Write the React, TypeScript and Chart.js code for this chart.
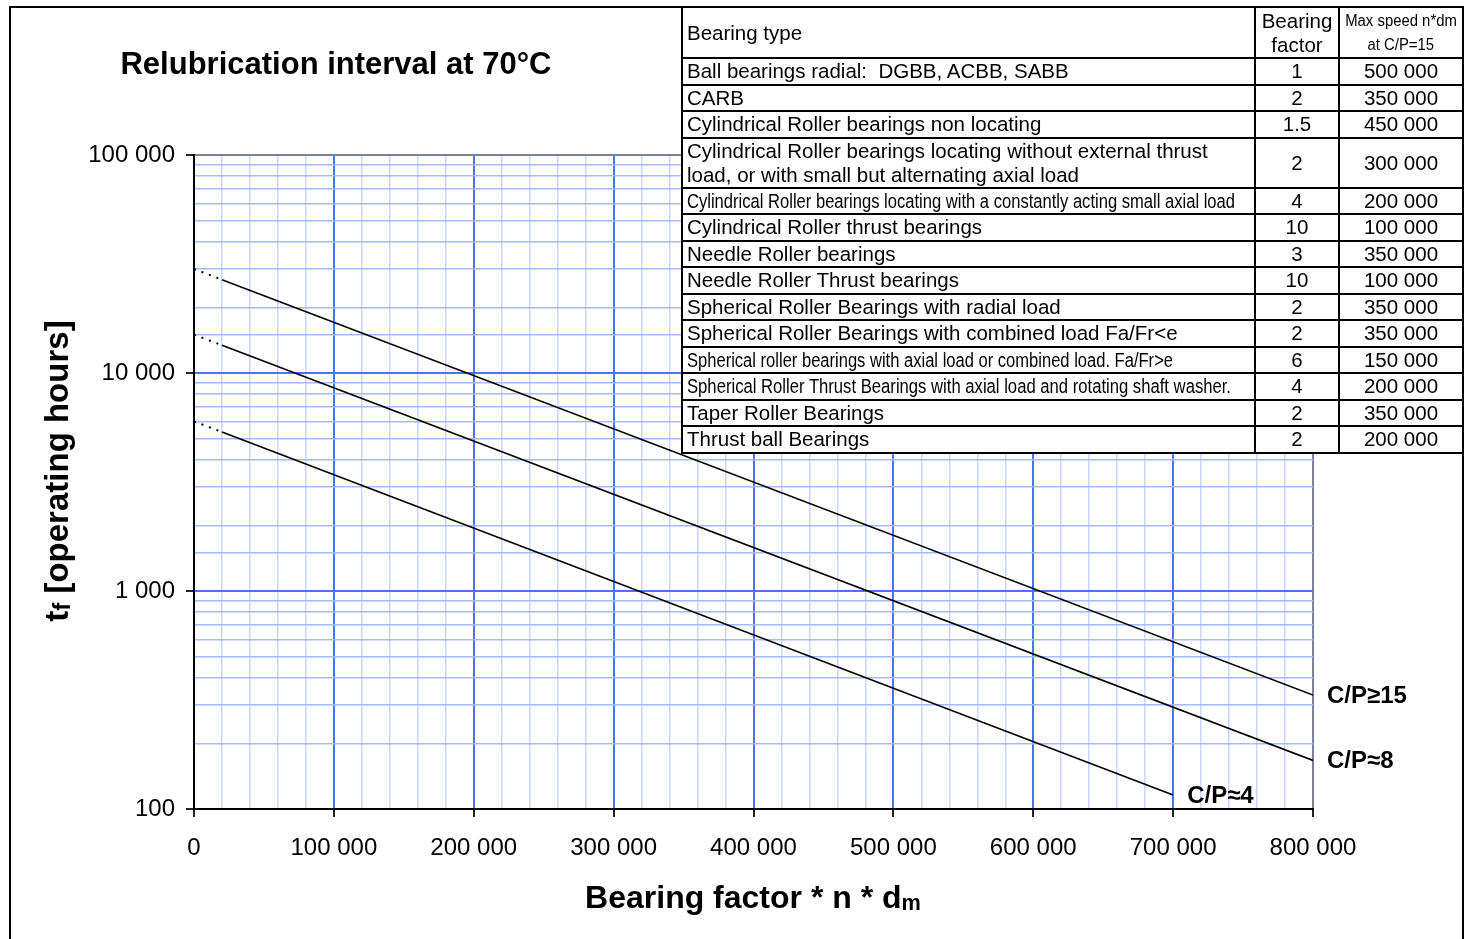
import React, { useEffect, useLayoutEffect, useRef } from 'react';
import { Chart, registerables } from 'chart.js';

Chart.register(...registerables);

// ---------- data ----------
const xMin = 0;
const xMax = 800000;
const xStep = 20000;
const yMin = 100;
const yMax = 100000;

const curveNames = ['C/P≥15', 'C/P≈8', 'C/P≈4'];

// dotted extrapolation near the y-axis
const dashedX = [0, 20000];
const cp15DashedY = [30000, 26800];
const cp8DashedY = [15000, 13400];
const cp4DashedY = [6000, 5360];

// solid curves
const cp15X = [20000, 800000];
const cp15Y = [26800, 333];
const cp8X = [20000, 800000];
const cp8Y = [13400, 167];
const cp4X = [20000, 700000];
const cp4Y = [5360, 116];

const tableHeader = ['Bearing type', 'Bearing\nfactor', 'Max speed n*dm', 'at C/P=15'];
const bearingTypes = [
  'Ball bearings radial:  DGBB, ACBB, SABB',
  'CARB',
  'Cylindrical Roller bearings non locating',
  'Cylindrical Roller bearings locating without external thrust\nload, or with small but alternating axial load',
  'Cylindrical Roller bearings locating with a constantly acting small axial load',
  'Cylindrical Roller thrust bearings',
  'Needle Roller bearings',
  'Needle Roller Thrust bearings',
  'Spherical Roller Bearings with radial load',
  'Spherical Roller Bearings with combined load Fa/Fr<e',
  'Spherical roller bearings with axial load or combined load. Fa/Fr>e',
  'Spherical Roller Thrust Bearings with axial load and rotating shaft washer.',
  'Taper Roller Bearings',
  'Thrust ball Bearings',
];
const bearingFactors = ['1', '2', '1.5', '2', '4', '10', '3', '10', '2', '2', '6', '4', '2', '2'];
const maxSpeeds = [
  '500 000', '350 000', '450 000', '300 000', '200 000', '100 000', '350 000',
  '100 000', '350 000', '350 000', '150 000', '200 000', '350 000', '200 000',
];

// ---------- styling ----------
const FONT = '"Liberation Sans", Arial, sans-serif';
// rows drawn in a condensed face in the original: squeezed to these widths (px)
const narrowRowWidths: Record<number, number> = { 4: 548, 10: 486, 11: 544 };
const MAJOR = '#4a74ff';
const MINOR_V = '#c9d6ff';
const MINOR_H = '#a6baff';
const EDGE = '#7d8099';

const fmt = (v: number) => String(Math.round(v)).replace(/\B(?=(\d{3})+(?!\d))/g, ' ');
const isPow10 = (v: number) => Math.abs(Math.log10(v) - Math.round(Math.log10(v))) < 1e-9;

const toPts = (xs: number[], ys: number[]) => xs.map((x, i) => ({ x, y: ys[i] }));

const curveLabelPlugin = {
  id: 'curveLabels',
  afterDatasetsDraw(chart: any) {
    const ctx = chart.ctx;
    ctx.save();
    ctx.font = `bold 24px ${FONT}`;
    ctx.fillStyle = '#000';
    ctx.textBaseline = 'middle';
    ctx.textAlign = 'left';
    chart.data.datasets.forEach((ds: any, i: number) => {
      if (!ds.curveLabel) return;
      const meta = chart.getDatasetMeta(i);
      const pt = meta.data[meta.data.length - 1];
      ctx.fillText(ds.curveLabel, pt.x + 14, pt.y + 1);
    });
    ctx.restore();
  },
};

function ChartCanvas() {
  const ref = useRef<HTMLCanvasElement | null>(null);
  useEffect(() => {
    if (!ref.current) return;
    const solid = { borderColor: '#000', borderWidth: 1.6, pointRadius: 0, fill: false };
    const dashed = { borderColor: '#000', borderWidth: 2, pointRadius: 0, fill: false, borderDash: [2, 6] };
    const chart = new Chart(ref.current, {
      type: 'line',
      data: {
        datasets: [
          { ...dashed, data: toPts(dashedX, cp15DashedY) },
          { ...dashed, data: toPts(dashedX, cp8DashedY) },
          { ...dashed, data: toPts(dashedX, cp4DashedY) },
          { ...solid, data: toPts(cp15X, cp15Y), curveLabel: curveNames[0] } as any,
          { ...solid, data: toPts(cp8X, cp8Y), curveLabel: curveNames[1] } as any,
          { ...solid, data: toPts(cp4X, cp4Y), curveLabel: curveNames[2] } as any,
        ],
      },
      options: {
        responsive: false,
        animation: false,
        devicePixelRatio: 1,
        layout: { padding: { left: 0, right: 151, top: 155, bottom: 0 } },
        plugins: { legend: { display: false }, tooltip: { enabled: false }, title: { display: false } },
        scales: {
          x: {
            type: 'linear',
            min: xMin,
            max: xMax,
            afterFit: (s: any) => { s.height = 130; },
            ticks: {
              stepSize: xStep,
              autoSkip: false,
              maxRotation: 0,
              padding: 17,
              color: '#000',
              font: { family: FONT, size: 24 },
              callback: (v: any) => (Number(v) % 100000 === 0 ? fmt(Number(v)) : ''),
            },
            grid: {
              color: (c: any) => {
                const v = c.tick ? c.tick.value : 0;
                if (v === xMax) return EDGE;
                return v % 100000 === 0 ? MAJOR : MINOR_V;
              },
              lineWidth: (c: any) => {
                const v = c.tick ? c.tick.value : 0;
                return v % 100000 === 0 ? 2 : 1.5;
              },
              tickColor: (c: any) => {
                const v = c.tick ? c.tick.value : 0;
                return v % 100000 === 0 ? '#222' : 'rgba(0,0,0,0)';
              },
              tickWidth: 2,
              tickLength: 8,
            },
            border: { color: '#000', width: 2 },
          },
          y: {
            type: 'logarithmic',
            min: yMin,
            max: yMax,
            afterFit: (s: any) => { s.width = 194; },
            ticks: {
              autoSkip: false,
              padding: 11,
              color: '#000',
              font: { family: FONT, size: 24 },
              callback: (v: any) => (isPow10(Number(v)) ? fmt(Number(v)) : ''),
            },
            grid: {
              color: (c: any) => {
                const v = c.tick ? c.tick.value : 1;
                if (v === yMax) return EDGE;
                return isPow10(v) ? MAJOR : MINOR_H;
              },
              lineWidth: (c: any) => {
                const v = c.tick ? c.tick.value : 1;
                return isPow10(v) ? 2 : 1.5;
              },
              tickColor: (c: any) => {
                const v = c.tick ? c.tick.value : 1;
                return isPow10(v) ? '#222' : 'rgba(0,0,0,0)';
              },
              tickWidth: 2,
              tickLength: 8,
            },
            border: { color: '#000', width: 2 },
          },
        },
      } as any,
      plugins: [curveLabelPlugin],
    });
    return () => chart.destroy();
  }, []);
  return (
    <canvas
      ref={ref}
      width={1464}
      height={939}
      style={{ position: 'absolute', left: 0, top: 0, width: 1464, height: 939 }}
    />
  );
}

function FitText({ text, width, style }: { text: string; width: number; style?: any }) {
  const ref = useRef<HTMLSpanElement | null>(null);
  useLayoutEffect(() => {
    const el = ref.current;
    if (!el) return;
    el.style.transform = 'none';
    const w = el.getBoundingClientRect().width;
    if (w > 0) el.style.transform = `scaleX(${width / w})`;
  });
  return (
    <span ref={ref} style={{ display: 'inline-block', whiteSpace: 'pre', transformOrigin: 'left center', ...style }}>
      {text}
    </span>
  );
}

const HEADER_H = 51;
const ROW_H = 26.5;
const COL_W = [573, 84, 124];

function BearingTable() {
  const rowHeights = bearingTypes.map((t) => (t.includes('\n') ? 50 : ROW_H));
  const cell = (extra: any) => ({
    borderRight: '2px solid #000',
    borderBottom: '2px solid #000',
    boxSizing: 'border-box' as const,
    display: 'flex',
    alignItems: 'center',
    overflow: 'hidden',
    whiteSpace: 'pre' as const,
    ...extra,
  });
  const typeStyle = { fontFamily: FONT, fontSize: 20.5, lineHeight: '24px', paddingLeft: 4 };
  const centerStyle = { justifyContent: 'center', textAlign: 'center' as const, fontFamily: FONT, fontSize: 20.5, lineHeight: '24px' };
  return (
    <div
      style={{
        position: 'absolute',
        left: 681,
        top: 6,
        width: 783,
        borderLeft: '2px solid #000',
        borderTop: '2px solid #000',
        boxSizing: 'border-box',
        background: '#fff',
        display: 'grid',
        gridTemplateColumns: COL_W.map((w) => `${w}px`).join(' '),
        gridTemplateRows: [HEADER_H, ...rowHeights].map((h) => `${h}px`).join(' '),
        color: '#000',
      }}
    >
      <div style={cell(typeStyle)}>{tableHeader[0]}</div>
      <div style={cell(centerStyle)}>{tableHeader[1]}</div>
      <div style={cell({ ...centerStyle, flexDirection: 'column', fontSize: 16, lineHeight: '24px' })}>
        <span style={{ display: 'inline-block', transform: 'scaleX(0.93)' }}>{tableHeader[2]}</span>
        <span style={{ display: 'inline-block', transform: 'scaleX(0.93)' }}>{tableHeader[3]}</span>
      </div>
      {bearingTypes.map((t, i) => (
        <React.Fragment key={i}>
          <div style={cell(typeStyle)}>
            {narrowRowWidths[i] ? (
              <FitText text={t} width={narrowRowWidths[i]} style={{ fontSize: 19.5 }} />
            ) : (
              t
            )}
          </div>
          <div style={cell(centerStyle)}>{bearingFactors[i]}</div>
          <div style={cell(centerStyle)}>{maxSpeeds[i]}</div>
        </React.Fragment>
      ))}
    </div>
  );
}

export default function App() {
  useEffect(() => {
    document.body.style.margin = '0';
  }, []);
  const titleFont = { fontFamily: FONT, fontWeight: 'bold' as const, lineHeight: 1, whiteSpace: 'nowrap' as const, color: '#000' };
  return (
    <div style={{ position: 'absolute', left: 0, top: 0, width: 1464, height: 939, overflow: 'hidden', background: '#fff' }}>
      <ChartCanvas />
      <div
        style={{
          position: 'absolute',
          left: 9,
          top: 6,
          width: 1455,
          height: 960,
          border: '2px solid #000',
          boxSizing: 'border-box',
          pointerEvents: 'none',
        }}
      />
      <div style={{ ...titleFont, fontSize: 31, position: 'absolute', left: 336, top: 48, transform: 'translateX(-50%)' }}>
        Relubrication interval at 70°C
      </div>
      <div
        style={{
          ...titleFont,
          fontSize: 33,
          position: 'absolute',
          left: 57,
          top: 471,
          transform: 'translate(-50%, -50%) rotate(-90deg)',
        }}
      >
        t<span style={{ fontSize: '0.72em', verticalAlign: '-0.08em' }}>f</span> [operating hours]
      </div>
      <div style={{ ...titleFont, fontSize: 32, position: 'absolute', left: 753, top: 881, transform: 'translateX(-50%)' }}>
        Bearing factor * n * d<span style={{ fontSize: '0.68em', verticalAlign: '-0.1em' }}>m</span>
      </div>
      <BearingTable />
    </div>
  );
}
